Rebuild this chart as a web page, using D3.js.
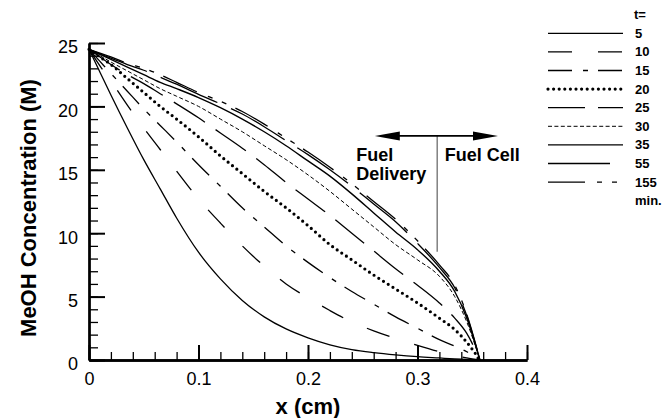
<!DOCTYPE html>
<html>
<head>
<meta charset="utf-8">
<script src="https://cdn.jsdelivr.net/npm/d3@7"></script>
<style>
  html, body { margin: 0; padding: 0; background: #fff; }
  svg { display: block; font-family: "Liberation Sans", Arial, Helvetica, sans-serif; }
</style>
</head>
<body>
<svg id="chart" width="667" height="418"></svg>
<script>
// Distance from the fuel inlet (cm)
const xPos = [0, 0.01, 0.02, 0.035, 0.05, 0.065, 0.08, 0.1, 0.12, 0.14, 0.16, 0.18,
              0.2, 0.22, 0.24, 0.26, 0.28, 0.3, 0.32, 0.334, 0.345, 0.357];

// Methanol concentration (M) at each position, one profile per time (min)
const c5   = [24.5, 22.7, 20.9, 18.3, 15.8, 13.5, 11.2, 8.5, 6.4, 4.7, 3.4, 2.45, 1.75, 1.2, 0.82, 0.58, 0.4, 0.26, 0.16, 0.09, 0.05, 0];
const c10  = [24.5, 23.2, 22.0, 20.1, 18.3, 16.6, 14.9, 12.7, 10.8, 9.0, 7.4, 6.0, 4.9, 3.9, 3.0, 2.3, 1.7, 1.15, 0.65, 0.35, 0.17, 0];
const c15  = [24.5, 23.55, 22.6, 21.2, 19.8, 18.5, 17.2, 15.4, 13.7, 12.0, 10.5, 9.0, 7.7, 6.5, 5.4, 4.4, 3.4, 2.5, 1.6, 1.1, 0.65, 0];
const c20  = [24.5, 23.9, 23.3, 22.2, 21.1, 20.0, 19.0, 17.6, 16.1, 14.7, 13.3, 12.0, 10.6, 9.1, 7.9, 6.7, 5.6, 4.5, 3.3, 2.4, 1.4, 0];
const c25  = [24.5, 23.9, 23.3, 22.5, 21.8, 21.0, 20.2, 19.1, 17.9, 16.7, 15.4, 14.0, 12.7, 11.4, 10.0, 8.6, 7.2, 5.9, 4.5, 3.3, 2.1, 0];
const c30  = [24.5, 24.0, 23.5, 22.8, 22.1, 21.4, 20.8, 20.0, 19.0, 18.0, 16.9, 15.8, 14.6, 13.3, 11.9, 10.5, 9.1, 7.9, 6.6, 5.0, 3.0, 0];
const c35  = [24.5, 24.1, 23.7, 23.1, 22.5, 21.9, 21.4, 20.7, 19.9, 19.0, 18.0, 16.9, 15.7, 14.5, 13.1, 11.6, 10.1, 8.7, 7.0, 5.4, 3.3, 0];
const c55  = [24.5, 24.15, 23.8, 23.3, 22.85, 22.3, 21.75, 20.95, 20.2, 19.4, 18.4, 17.3, 16.2, 15.0, 13.7, 12.3, 10.9, 9.2, 7.3, 5.7, 3.5, 0];
const c155 = [24.5, 24.2, 23.9, 23.4, 23.0, 22.5, 21.9, 21.1, 20.4, 19.6, 18.6, 17.5, 16.4, 15.2, 13.9, 12.5, 11.1, 9.4, 7.5, 5.9, 3.6, 0];

const times = ["5", "10", "15", "20", "25", "30", "35", "55", "155"];
const profiles = [c5, c10, c15, c20, c25, c30, c35, c55, c155];

// Axis ticks
const xMajor = [0, 0.1, 0.2, 0.3, 0.4];
const xMinor = d3.range(0, 0.4001, 0.02);
const yMajor = [0, 5, 10, 15, 20, 25];
const yMinor = d3.range(0, 25.001, 1);

// Fuel delivery / fuel cell boundary annotation (data units)
const boundaryX = 0.318;
const boundaryBottom = 8.54;
const arrowSpan = [0.261, 0.3735];
const arrowLevel = 17.67;

// Line patterns per time
const lineStyle = {
  "5":   { dash: null, w: 1.3 },
  "10":  { dash: "24,26", w: 1.3 },
  "15":  { dash: "24,11,5,10", w: 1.3 },
  "20":  { dash: "0,5.6", w: 3.2, cap: "round" },
  "25":  { dash: "37,13", w: 1.3 },
  "30":  { dash: "4,2.4", w: 1.0 },
  "35":  { dash: null, w: 1.4 },
  "55":  { dash: "62,15", w: 1.3 },
  "155": { dash: "37,12,5,10,5,10", w: 1.3 }
};

const svg = d3.select("#chart");
const x = d3.scaleLinear().domain([0, 0.4]).range([89, 527]);
const y = d3.scaleLinear().domain([0, 25]).range([360, 43]);

function styleLine(sel, key) {
  const s = lineStyle[key];
  sel.attr("fill", "none")
     .attr("stroke", "#000")
     .attr("stroke-width", s.w)
     .attr("stroke-linecap", s.cap || "butt")
     .attr("stroke-dasharray", s.dash);
}

// Concentration profiles
const line = d3.line()
  .x(d => x(d[0]))
  .y(d => y(d[1]))
  .curve(d3.curveMonotoneX);

const curves = svg.append("g");
times.forEach((t, i) => {
  const pts = xPos.map((xv, j) => [xv, profiles[i][j]]);
  curves.append("path").attr("d", line(pts)).call(styleLine, t);
});

// Axes: ticks drawn inward
const axes = svg.append("g");
const xAxisMinor = d3.axisBottom(x).tickValues(xMinor).tickSize(-8).tickSizeOuter(0).tickFormat("");
const xAxisMajor = d3.axisBottom(x).tickValues(xMajor).tickSize(-15).tickSizeOuter(0)
  .tickPadding(12).tickFormat(d => d === 0 ? "0" : d3.format(".1f")(d));
const yAxisMinor = d3.axisLeft(y).tickValues(yMinor).tickSize(-9).tickSizeOuter(0).tickFormat("");
const yAxisMajor = d3.axisLeft(y).tickValues(yMajor).tickSize(-16).tickSizeOuter(0)
  .tickPadding(11).tickFormat(d3.format("d"));

const gxm = axes.append("g").attr("transform", "translate(0,360)").call(xAxisMinor);
const gx = axes.append("g").attr("transform", "translate(0,360)").call(xAxisMajor);
const gym = axes.append("g").attr("transform", "translate(89,0)").call(yAxisMinor);
const gy = axes.append("g").attr("transform", "translate(89,0)").call(yAxisMajor);

[gxm, gym].forEach(g => {
  g.select(".domain").attr("stroke", "#000").attr("stroke-width", 2.3);
  g.selectAll(".tick line").attr("stroke", "#000").attr("stroke-width", 1.3);
});
[gx, gy].forEach(g => {
  g.select(".domain").attr("stroke", "#000").attr("stroke-width", 2.3);
  g.selectAll(".tick line").attr("stroke", "#000").attr("stroke-width", 2);
  g.selectAll(".tick text")
    .attr("fill", "#000")
    .style("font-family", "'Liberation Sans', Arial, sans-serif")
    .style("font-size", "18px");
});
gy.selectAll(".tick text").attr("dy", "0.55em");

// Axis titles
svg.append("text")
  .attr("x", (x(0) + x(0.4)) / 2).attr("y", 414)
  .attr("text-anchor", "middle")
  .style("font-size", "22px").style("font-weight", "bold")
  .text("x (cm)");

svg.append("text")
  .attr("transform", "translate(28,208) rotate(-90)")
  .attr("text-anchor", "middle").attr("dy", "0.35em")
  .style("font-size", "22px").style("font-weight", "bold")
  .text("MeOH Concentration (M)");

// Boundary marker with double arrow
const ann = svg.append("g");
const bx = x(boundaryX), ay = y(arrowLevel);
const ax0 = x(arrowSpan[0]), ax1 = x(arrowSpan[1]);
ann.append("line")
  .attr("x1", bx).attr("x2", bx).attr("y1", ay).attr("y2", y(boundaryBottom))
  .attr("stroke", "#808080").attr("stroke-width", 1.5);
ann.append("line")
  .attr("x1", ax0 + 20).attr("x2", ax1 - 20).attr("y1", ay).attr("y2", ay)
  .attr("stroke", "#000").attr("stroke-width", 1.7);
ann.append("path")
  .attr("d", `M${ax0},${ay} L${ax0 + 25},${ay - 4.5} L${ax0 + 25},${ay + 4.5} Z`)
  .attr("fill", "#000");
ann.append("path")
  .attr("d", `M${ax1},${ay} L${ax1 - 25},${ay - 4.5} L${ax1 - 25},${ay + 4.5} Z`)
  .attr("fill", "#000");

const annFont = t => t.style("font-size", "18px").style("font-weight", "bold").attr("fill", "#000");
ann.append("text").attr("x", bx - 81).attr("y", ay + 25.5).text("Fuel").call(annFont);
ann.append("text").attr("x", bx - 81).attr("y", ay + 44).text("Delivery").call(annFont);
ann.append("text").attr("x", bx + 7.5).attr("y", ay + 25.5).text("Fuel Cell").call(annFont);

// Legend
const legend = svg.append("g");
const legFont = t => t.style("font-size", "13px").style("font-weight", "bold")
  .attr("dominant-baseline", "central").attr("fill", "#000");
legend.append("text").attr("x", 634).attr("y", 14.7).text("t=").call(legFont);
times.forEach((t, i) => {
  const ly = 33.3 + 18.6 * i;
  legend.append("path").attr("d", `M548,${ly} L623,${ly}`).call(styleLine, t);
  legend.append("text").attr("x", 635).attr("y", ly).text(t).call(legFont);
});
legend.append("text").attr("x", 635).attr("y", 33.3 + 18.6 * times.length).text("min.").call(legFont);
</script>
</body>
</html>
